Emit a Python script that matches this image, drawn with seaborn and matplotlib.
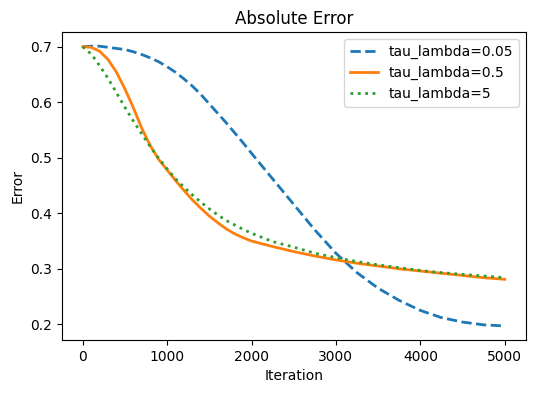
import pandas as pd
import matplotlib
matplotlib.use("Agg")
import matplotlib.pyplot as plt
import seaborn as sns

iterations = [0, 100, 200, 300, 400, 500, 600, 700, 800, 900, 1000, 1100,
              1200, 1300, 1400, 1500, 1600, 1700, 1800, 1900, 2000, 2250,
              2500, 2750, 3000, 3250, 3500, 3750, 4000, 4250, 4500, 4750,
              5000]

err_tau_005 = [0.700, 0.701, 0.701, 0.699, 0.697, 0.695, 0.691, 0.686, 0.680,
               0.673, 0.664, 0.654, 0.642, 0.629, 0.614, 0.597, 0.580, 0.563,
               0.545, 0.527, 0.508, 0.462, 0.416, 0.370, 0.328, 0.293, 0.265,
               0.243, 0.225, 0.212, 0.204, 0.199, 0.197]

err_tau_05 = [0.700, 0.699, 0.692, 0.677, 0.654, 0.624, 0.590, 0.553, 0.522,
              0.497, 0.478, 0.459, 0.441, 0.424, 0.409, 0.395, 0.383, 0.372,
              0.363, 0.356, 0.350, 0.340, 0.331, 0.323, 0.316, 0.310, 0.305,
              0.300, 0.296, 0.292, 0.288, 0.284, 0.281]

err_tau_5 = [0.700, 0.687, 0.666, 0.643, 0.617, 0.591, 0.566, 0.543, 0.520,
             0.499, 0.480, 0.462, 0.447, 0.433, 0.420, 0.408, 0.397, 0.387,
             0.379, 0.371, 0.364, 0.349, 0.339, 0.328, 0.320, 0.313, 0.307,
             0.302, 0.297, 0.293, 0.290, 0.287, 0.284]

labels = ["tau_lambda=0.05", "tau_lambda=0.5", "tau_lambda=5"]

fig, ax = plt.subplots(figsize=(5.36, 3.93), dpi=100)
fig.subplots_adjust(left=0.115, right=0.981, top=0.918, bottom=0.135)

styles = ["--", "-", ":"]
colors = ["#1f77b4", "#ff7f0e", "#2ca02c"]
for vals, lab, ls, c in zip([err_tau_005, err_tau_05, err_tau_5], labels, styles, colors):
    df = pd.DataFrame({"Iteration": iterations, "Error": vals})
    sns.lineplot(data=df, x="Iteration", y="Error", ax=ax, label=lab,
                 linestyle=ls, linewidth=2, color=c)

ax.set_title("Absolute Error")
ax.set_xlabel("Iteration")
ax.set_ylabel("Error")
ax.legend(loc="upper right")

fig.savefig("out.png", dpi=100)
